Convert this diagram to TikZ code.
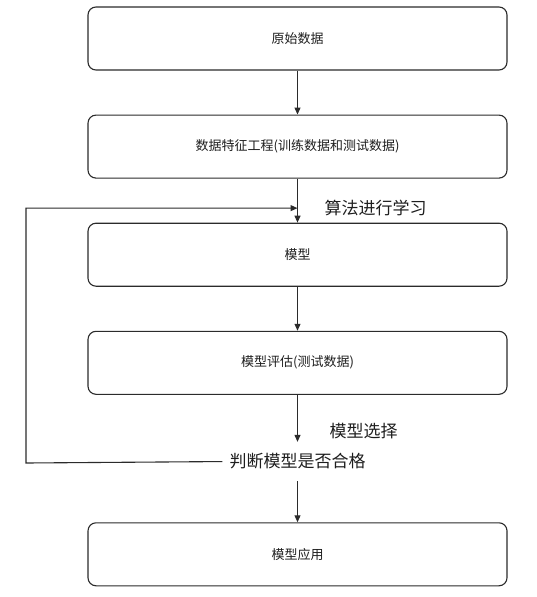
\documentclass[tikz,border=0pt]{standalone}
\usepackage{fontspec}
\usetikzlibrary{arrows.meta, positioning, calc}
\newfontfamily\cjk{Noto Sans CJK SC}
\definecolor{lineDark}{HTML}{2B2B2B}
\definecolor{textDark}{HTML}{1E1E1E}
\tikzset{
  arrowK/.style={-{Triangle[length=7pt, width=6pt]}, lineDark, line width=1.1pt},
  lineK/.style={lineDark, line width=1.1pt},
  boxW/.style={rectangle, rounded corners=8pt, draw=lineDark, fill=white,
               line width=1.1pt, align=center, text=textDark,
               font=\cjk\fontsize{13}{15}\selectfont,
               minimum width=419pt, minimum height=63pt, inner sep=0pt},
  lblK/.style={font=\cjk\fontsize{17}{20}\selectfont, text=textDark, inner sep=0pt},
}
\begin{document}
\begin{tikzpicture}[node distance=44pt]
    \useasboundingbox (0,0) rectangle (537pt,-597pt);
    \node[boxW] (raw) at (297.5pt,-38.5pt) {原始数据};
    \node[boxW, below=of raw] (feat) {数据特征工程(训练数据和测试数据)};
    \node[boxW, below=of feat] (model) {模型};
    \node[boxW, below=of model] (eval) {模型评估(测试数据)};
    \node[lblK, below=47pt of eval, minimum height=39pt, inner xsep=7pt] (check) {判断模型是否合格};
    \node[boxW, below=41pt of check] (app) {模型应用};
    \coordinate (join) at ($(feat.south)!0.67!(model.north)$);
    \coordinate (back) at (26pt,-463pt);
    \node[lblK, right=27pt of join, anchor=west] (learn) {算法进行学习};
    \node[lblK, below right=28pt and 32pt of eval.south] (select) {模型选择};
    \draw[arrowK] (raw) -- (feat);
    \draw[arrowK] (feat) -- (model);
    \draw[arrowK] (model) -- (eval);
    \draw[arrowK] (eval) -- (check);
    \draw[arrowK] (check) -- (app);
    \draw[lineK, -{Triangle[length=7pt, width=6pt]}] (check.west) -- (back) |- (join);
\end{tikzpicture}
\end{document}
